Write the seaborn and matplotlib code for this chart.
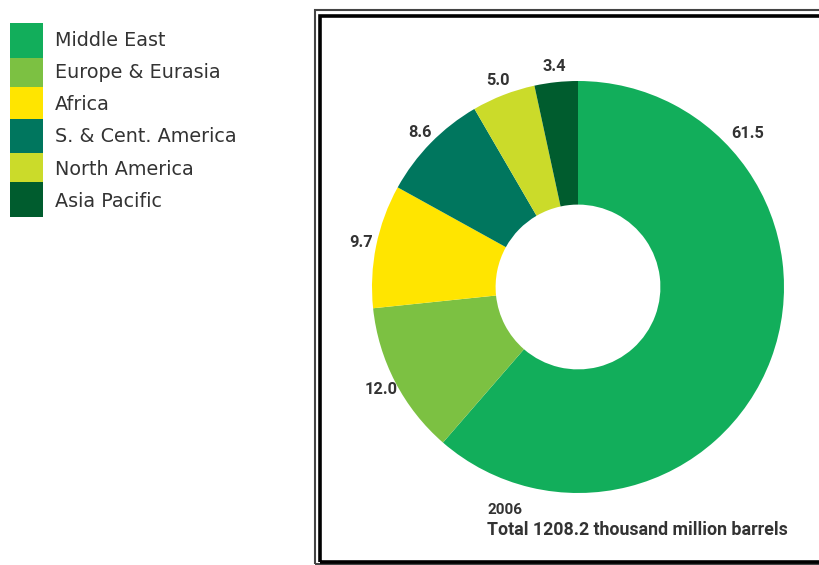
import numpy as np
import matplotlib
matplotlib.use("Agg")
import matplotlib.pyplot as plt
from matplotlib.patches import Rectangle
import seaborn as sns

regions = ["Middle East", "Europe & Eurasia", "Africa", "S. & Cent. America",
           "North America", "Asia Pacific"]
shares = [61.5, 12.0, 9.7, 8.6, 5.0, 3.4]
share_labels = ["61.5", "12.0", "9.7", "8.6", "5.0", "3.4"]
colors = ["#12AE5B", "#7CC142", "#FFE500", "#00765E", "#CBDB2A", "#005C2E"]
year_text = "2006"
total_text = "Total 1208.2 thousand million barrels"

sns.set_theme(style="white")
plt.rcParams['font.family'] = ['Roboto', 'DejaVu Sans']

W, H = 820, 565
fig = plt.figure(figsize=(W / 100, H / 100), dpi=100)
fig.patch.set_facecolor("white")

def fx(px):
    return px / W

def fy(py):
    return 1 - py / H

# Frame (double border)
fig.add_artist(Rectangle((fx(315), fy(564)), fx(700), (564 - 10) / H, transform=fig.transFigure,
                         fill=False, edgecolor="#444444", linewidth=1.5))
fig.add_artist(Rectangle((fx(320.5), fy(562)), fx(700), (562 - 16) / H, transform=fig.transFigure,
                         fill=False, edgecolor="black", linewidth=2.6))

# Donut
cx, cy, r = 578, 287, 206
ax = fig.add_axes([fx(cx - r), fy(cy + r), 2 * r / W, 2 * r / H])
wedges, _ = ax.pie(shares, colors=colors, startangle=90, counterclock=False,
                   radius=1.0, wedgeprops=dict(width=0.6, linewidth=0))
ax.set_xlim(-1, 1)
ax.set_ylim(-1, 1)
ax.set_aspect("auto")
ax.axis("off")

for i, (w, lab) in enumerate(zip(wedges, share_labels)):
    ang = np.deg2rad((w.theta1 + w.theta2) / 2)
    dist = 1.075
    if i == 0:
        ang = np.deg2rad(42)
        dist = 1.11
    ax.text(dist * np.cos(ang), dist * np.sin(ang), lab, ha="center", va="center",
            fontsize=11.8, fontweight="bold", color="#333333", clip_on=False)

fig.text(fx(488), fy(510), year_text, ha="left", va="center", fontsize=11,
         fontweight="bold", color="#333333")
fig.text(fx(487), fy(530), total_text, ha="left", va="center", fontsize=12.8,
         fontweight="bold", color="#333333")

# Legend
edges = [23, 58, 87, 119, 153, 182, 217]
for i, (name, col) in enumerate(zip(regions, colors)):
    y0, y1 = edges[i], edges[i + 1]
    fig.add_artist(Rectangle((fx(10), fy(y1)), 33 / W, (y1 - y0) / H,
                             transform=fig.transFigure, facecolor=col, edgecolor="none"))
    fig.text(fx(55), fy(24 + 32.3 * i + 16), name, ha="left", va="center",
             fontsize=13.8, color="#333333", family=["DejaVu Sans"])

fig.savefig("out.png", dpi=100, facecolor="white")
